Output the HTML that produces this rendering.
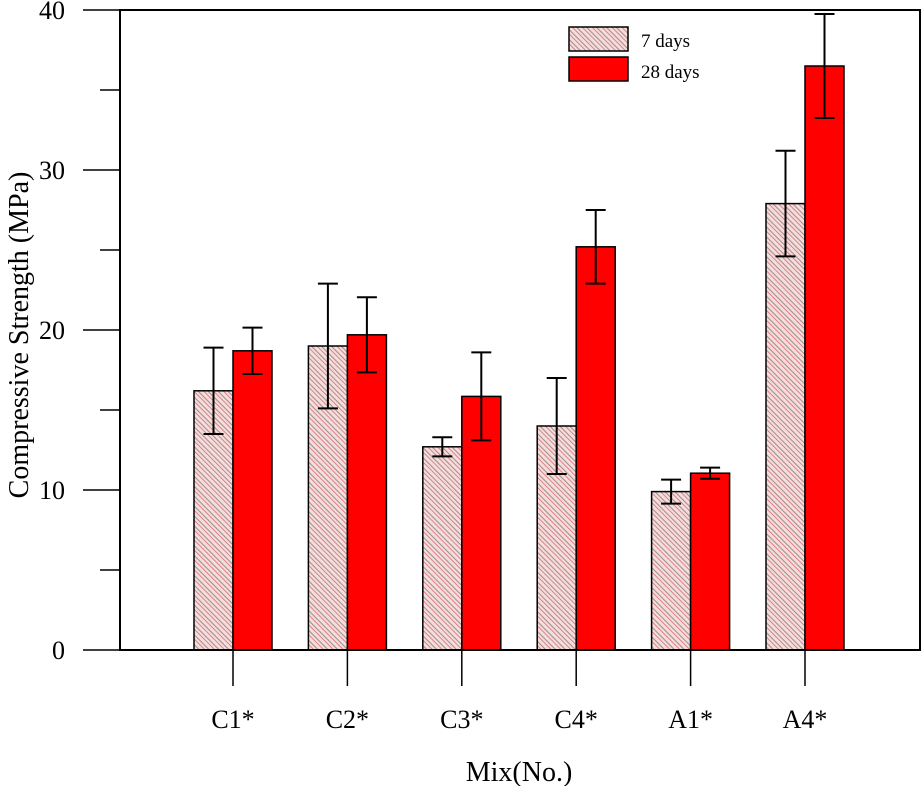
<!DOCTYPE html>
<html><head><meta charset="utf-8"><style>
body{margin:0;background:#fff}
svg{display:block;font-family:"Liberation Serif",serif}
</style></head><body>
<svg id="chart" width="922" height="786">
<defs>
<pattern id="hatch" width="7" height="7" patternUnits="userSpaceOnUse" patternTransform="rotate(-45)">
<rect width="7" height="7" fill="#f6dede"/>
<line x1="0" y1="0" x2="0" y2="7" stroke="#d86a6a" stroke-width="1.6"/>
<line x1="3.5" y1="0" x2="3.5" y2="7" stroke="#a09090" stroke-width="1.1"/>
</pattern>
</defs>
<g id="marks"></g>
<rect x="120" y="10" width="800" height="640" fill="none" stroke="#000" stroke-width="2"/>
<g>
<rect x="569" y="27" width="59" height="24" fill="url(#hatch)" stroke="#000" stroke-width="1.5"/>
<text x="641" y="47" font-size="19">7 days</text>
<rect x="569" y="57" width="59" height="24" fill="#ff0000" stroke="#000" stroke-width="1.5"/>
<text x="641" y="78" font-size="19">28 days</text>
</g>
<text transform="translate(28,335) rotate(-90)" text-anchor="middle" font-size="28">Compressive Strength (MPa)</text>
<text x="519" y="781" text-anchor="middle" font-size="28">Mix(No.)</text>
</svg>
<script>
const categories=["C1*","C2*","C3*","C4*","A1*","A4*"];
const days7=[16.2,19.0,12.7,14.0,9.9,27.9];
const err7=[2.7,3.9,0.6,3.0,0.75,3.3];
const days28=[18.7,19.7,15.85,25.2,11.05,36.5];
const err28=[1.45,2.35,2.75,2.3,0.35,3.25];
const yTicks=[0,10,20,30,40];
const yMinor=[5,15,25,35];

const NS="http://www.w3.org/2000/svg";
const g=document.getElementById('marks');
const y=v=>650-v*16;
const xc=i=>233+i*114.4;
const bw=39;
function mk(t,a){const e=document.createElementNS(NS,t);for(const k in a)e.setAttribute(k,a[k]);g.appendChild(e);return e;}
yTicks.forEach(t=>{
  const l=mk('line',{x1:83,x2:120,y1:y(t),y2:y(t),stroke:'#000','stroke-width':1.5});
  
  
  const tx=mk('text',{x:65,y:y(t)+9,'text-anchor':'end','font-size':26});
  tx.textContent=t;
  
  
});
yMinor.forEach(t=>{
  const l=mk('line',{x1:100,x2:120,y1:y(t),y2:y(t),stroke:'#000','stroke-width':1.5});
  
  
});
function errBar(cx,v,e){
  const a={stroke:'#000','stroke-width':2};
  const s=mk('line',Object.assign({x1:cx,x2:cx,y1:y(v+e),y2:y(v-e)},a));
  
  
  const c1=mk('line',Object.assign({x1:cx-10,x2:cx+10,y1:y(v+e),y2:y(v+e)},a));
  
  
  const c2=mk('line',Object.assign({x1:cx-10,x2:cx+10,y1:y(v-e),y2:y(v-e)},a));
  
  
}
categories.forEach((c,i)=>{
  const cx=xc(i);
  const tk=mk('line',{x1:cx,x2:cx,y1:650,y2:686,stroke:'#000','stroke-width':1.5});
  
  
  const b1=mk('rect',{x:cx-bw,y:y(days7[i]),width:bw,height:650-y(days7[i]),fill:'url(#hatch)',stroke:'#000','stroke-width':1.5});
  
  
  const b2=mk('rect',{x:cx,y:y(days28[i]),width:bw,height:650-y(days28[i]),fill:'#ff0000',stroke:'#000','stroke-width':1.5});
  
  
  errBar(cx-bw/2,days7[i],err7[i]);
  errBar(cx+bw/2,days28[i],err28[i]);
  const t=mk('text',{x:cx,y:728,'text-anchor':'middle','font-size':26});
  t.textContent=c;
  
  
});
</script>
</body></html>
